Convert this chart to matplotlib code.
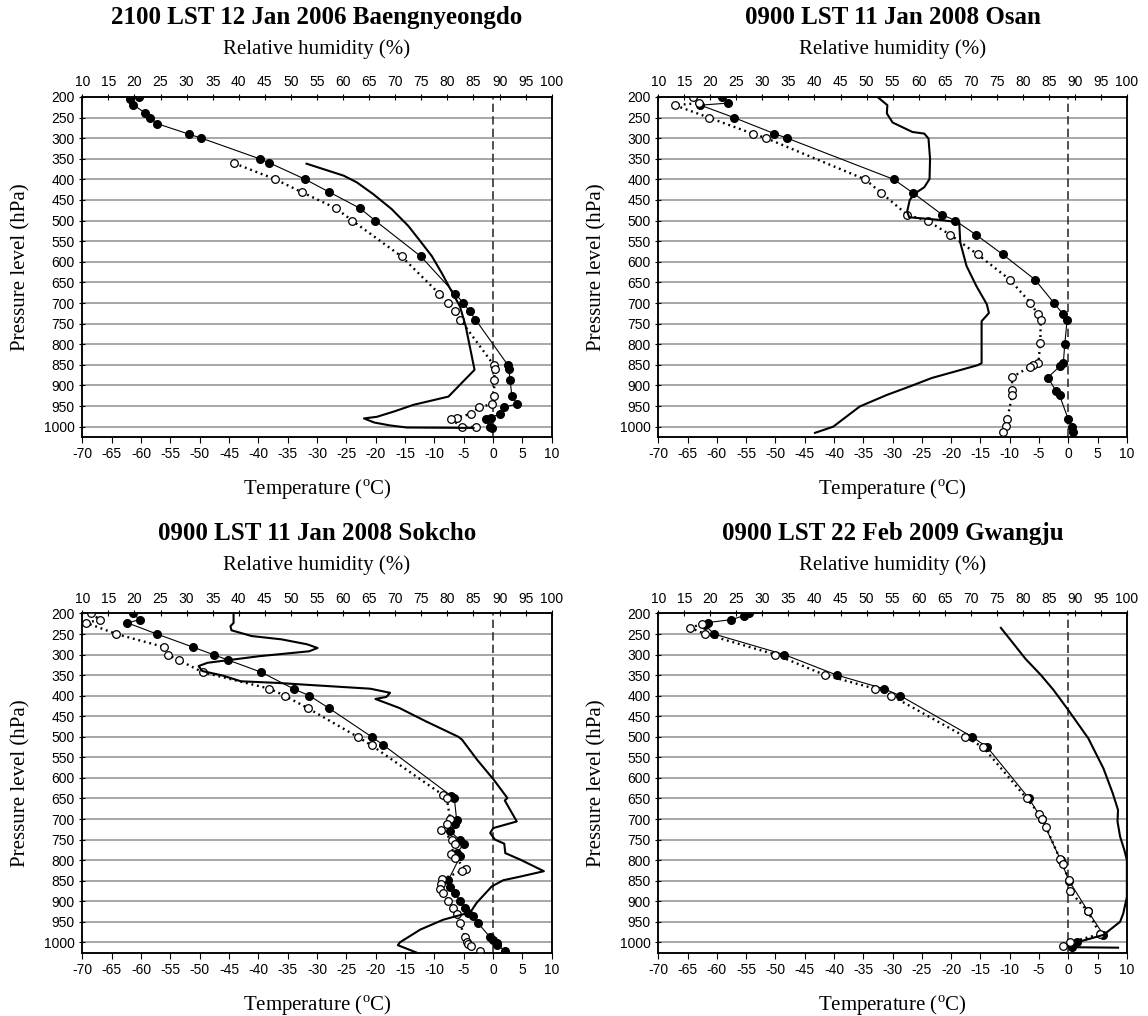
# Four sounding panels: temperature, dew point and relative humidity vs pressure
import matplotlib
matplotlib.use("Agg")
import matplotlib.pyplot as plt

plt.rcParams['font.family'] = ['Liberation Sans', 'DejaVu Sans']
plt.rcParams['mathtext.fontset'] = 'custom'
plt.rcParams['mathtext.rm'] = 'Liberation Serif'
plt.rcParams['axes.unicode_minus'] = False

SERIF = ['Liberation Serif', 'DejaVu Serif']

temp_ticks = list(range(-70, 15, 5))
rh_ticks = list(range(10, 105, 5))
p_ticks = list(range(200, 1050, 50))

# 2100 LST 12 Jan 2006 Baengnyeongdo
baeng_t_p = [200, 204, 219, 239, 250, 265, 290, 300, 350, 360, 400, 431, 470, 500,
             587, 677, 699, 720, 740, 850, 859, 886, 925, 945, 953, 969, 978, 982,
             1000, 1002]
baeng_t = [-60.4, -61.8, -61.3, -59.3, -58.5, -57.2, -51.9, -49.7, -39.8, -38.1,
           -32.0, -27.9, -22.7, -20.1, -12.3, -6.5, -5.1, -4.0, -3.0, 2.5, 2.7, 2.9,
           3.2, 4.1, 1.8, 1.1, -0.4, -1.2, -0.5, -0.2]
baeng_td_p = [361, 400, 431, 470, 500, 587, 677, 699, 720, 740, 850, 859, 886, 925,
              945, 953, 969, 978, 982, 1000, 1001]
baeng_td = [-44.1, -37.1, -32.6, -26.8, -24.0, -15.6, -9.2, -7.7, -6.5, -5.6, 0.1,
            0.3, 0.2, 0.2, -0.2, -2.4, -3.8, -6.2, -7.2, -5.3, -2.9]
baeng_rh_p = [362, 391, 407, 436, 472, 513, 550, 586, 627, 667, 708, 756, 862, 927,
              947, 963, 976, 980, 990, 997, 1002, 1003]
baeng_rh = [53.0, 60.1, 62.6, 65.8, 69.3, 72.5, 74.8, 77.0, 78.9, 80.6, 82.4, 83.5,
            85.2, 80.2, 73.5, 69.8, 66.5, 64.0, 66.0, 69.0, 72.2, 85.0]

# 0900 LST 11 Jan 2008 Osan
osan_t_p = [200, 215, 220, 250, 289, 300, 400, 433, 486, 500, 535, 582, 643, 699,
            727, 741, 799, 846, 854, 881, 913, 924, 982, 1000, 1014]
osan_t = [-59.1, -58.1, -62.8, -57.1, -50.2, -48.0, -29.8, -26.5, -21.5, -19.3,
          -15.7, -11.2, -5.7, -2.5, -0.9, -0.2, -0.6, -0.85, -1.5, -3.5, -2.1, -1.5,
          0.0, 0.6, 0.85]
osan_td_p = [200, 215, 220, 250, 289, 300, 400, 433, 486, 501, 534, 582, 643, 699,
             727, 742, 798, 846, 850, 855, 880, 912, 924, 981, 998, 1014]
osan_td = [-64.1, -63.0, -67.2, -61.4, -53.9, -51.6, -34.7, -31.9, -27.5, -24.0,
           -20.2, -15.5, -10.0, -6.5, -5.2, -4.7, -4.8, -5.1, -6.0, -6.6, -9.6, -9.6,
           -9.6, -10.4, -10.6, -11.1]
osan_rh_p = [200, 220, 240, 262, 285, 289, 301, 350, 399, 419, 435, 450, 478, 492,
             498, 504, 553, 610, 659, 703, 724, 730, 744, 846, 851, 863, 882, 902,
             923, 951, 1000, 1015]
osan_rh = [52.1, 54.0, 53.9, 55.0, 58.8, 61.1, 61.9, 62.2, 62.1, 61.1, 59.2, 58.3,
           57.8, 58.2, 63.7, 67.8, 68.0, 69.2, 71.1, 73.1, 73.5, 73.1, 72.1, 72.1,
           71.3, 67.9, 62.5, 58.4, 53.9, 48.7, 43.6, 40.1]

# 0900 LST 11 Jan 2008 Sokcho
sokcho_t_p = [200, 215, 223, 250, 282, 301, 313, 343, 384, 400, 431, 500, 520, 643,
              649, 703, 711, 730, 752, 760, 783, 791, 848, 865, 879, 900, 917, 928,
              937, 954, 986, 994, 1002, 1006, 1020]
sokcho_t = [-61.4, -60.2, -62.3, -57.3, -51.1, -47.5, -45.2, -39.5, -33.9, -31.3,
            -27.9, -20.7, -18.7, -7.2, -6.6, -6.2, -6.5, -7.3, -5.6, -4.9, -6.2, -5.6,
            -7.6, -7.3, -6.5, -5.6, -4.8, -4.2, -3.5, -2.5, -0.6, 0.05, 0.6, 0.7, 2.0]
sokcho_td_p = [200, 215, 223, 250, 282, 301, 313, 343, 383, 400, 431, 500, 521, 642,
               649, 701, 712, 727, 751, 761, 784, 794, 822, 826, 847, 859, 870, 879,
               900, 917, 930, 953, 986, 998, 1004, 1008, 1020]
sokcho_td = [-68.5, -67.0, -69.3, -64.2, -56.0, -55.4, -53.6, -49.5, -38.1, -35.5,
             -31.5, -23.1, -20.7, -8.5, -7.9, -7.3, -7.9, -8.9, -7.0, -6.4, -7.2, -6.5,
             -4.6, -5.3, -8.75, -8.9, -9.0, -8.5, -7.6, -6.8, -6.2, -5.7, -4.8, -4.4,
             -4.2, -3.75, -2.2]
sokcho_rh_p = [200, 223, 231, 241, 255, 263, 275, 284, 292, 304, 320, 328, 340, 351,
               365, 369, 373, 383, 393, 403, 408, 430, 462, 500, 507, 556, 604, 649,
               655, 706, 722, 734, 750, 760, 783, 799, 827, 840, 849, 864, 904, 927,
               945, 969, 1000, 1007, 1025]
sokcho_rh = [39.0, 39.0, 38.4, 38.6, 42.5, 48.2, 53.1, 55.1, 53.5, 43.9, 34.0, 32.3,
             33.0, 36.9, 40.4, 47.5, 52.4, 65.2, 69.0, 68.3, 66.2, 70.8, 75.8, 82.1,
             82.8, 85.7, 88.85, 91.5, 91.0, 93.3, 88.8, 88.2, 89.1, 90.9, 91.1, 94.0,
             98.5, 94.0, 90.7, 88.5, 85.6, 84.4, 79.2, 74.8, 70.9, 70.5, 74.1]

# 0900 LST 22 Feb 2009 Gwangju
gwangju_t_p = [200, 205, 215, 222, 228, 250, 300, 350, 383, 400, 500, 526, 650, 700,
               800, 850, 925, 982, 1000, 1012]
gwangju_t = [-54.5, -55.3, -57.5, -61.5, -62.0, -60.5, -48.5, -39.5, -31.5, -28.7,
             -16.4, -13.8, -6.7, -4.55, -1.3, 0.1, 3.4, 6.0, 1.5, 0.6]
gwangju_td_p = [225, 235, 250, 300, 350, 383, 400, 500, 526, 650, 687, 700, 720, 798,
                809, 849, 876, 925, 980, 1000, 1010]
gwangju_td = [-62.5, -64.5, -62.0, -50.0, -41.5, -33.0, -30.2, -17.6, -14.5, -7.1,
              -5.0, -4.55, -3.8, -1.4, -0.97, 0.1, 0.3, 3.35, 5.4, 0.3, -0.85]
gwangju_rh_p = [235, 270, 310, 350, 386, 435, 504, 577, 638, 678, 706, 743, 775, 800,
                890, 930, 950, 982, 1000, 1012, 1013]
gwangju_rh = [75.8, 78.0, 80.5, 83.5, 85.9, 88.75, 92.6, 95.5, 97.3, 98.3, 98.2, 98.7,
              99.5, 100, 100, 99.3, 98.7, 95.5, 90.4, 90.2, 98.3]


def draw_panel(ax, title, t_p, t, td_p, td, rh_p, rh):
    '''
    One sounding: temperature (filled), dew point (open, dotted)
    on the bottom axis and relative humidity on the top axis
    '''
    ax.set_xlim(-70, 10)
    ax.set_ylim(1025, 200)
    ax.set_xticks(temp_ticks)
    ax.set_yticks(p_ticks)
    ax.yaxis.grid(True, color='#a0a0a0', lw=1.3)
    ax.set_axisbelow(True)
    ax.axvline(0, color='#333333', lw=1.2, ls=(0, (5, 2.5)))

    ax.plot(t, t_p, color='black', lw=0.8, marker='o', ms=5.5,
            mfc='black', mec='black', zorder=3)
    ax.plot(td, td_p, color='black', lw=1.7, ls=(0, (0.8, 1.6)), marker='o',
            ms=5.5, mfc='white', mec='black', mew=0.9, zorder=4)

    ax2 = ax.twiny()
    ax2.set_xlim(10, 100)
    ax2.set_xticks(rh_ticks)
    ax2.plot(rh, rh_p, color='black', lw=1.5)

    ax.tick_params(axis='x', direction='out', length=4, width=0.8,
                   labelsize=10, pad=3.5)
    ax.tick_params(axis='y', direction='inout', length=5, width=0.8,
                   labelsize=10, pad=3)
    ax2.tick_params(axis='x', direction='inout', length=5, width=0.8,
                    labelsize=10, pad=3)
    for a in (ax, ax2):
        for s in a.spines.values():
            s.set_linewidth(1.1)

    ax.set_ylabel('Pressure level (hPa)', fontfamily=SERIF, fontsize=15)
    ax.yaxis.set_label_coords(-0.11, 0.5)
    ax.annotate(title, xy=(0.5, 1), xycoords='axes fraction', xytext=(0, 57.5),
                textcoords='offset points', ha='center', va='center',
                fontfamily=SERIF, fontsize=18, fontweight='bold')
    ax.annotate('Relative humidity (%)', xy=(0.5, 1), xycoords='axes fraction',
                xytext=(0, 34.5), textcoords='offset points', ha='center',
                va='center', fontfamily=SERIF, fontsize=15)
    ax.annotate('Temperature ($^{\\rm o}$C)', xy=(0.5, 0), xycoords='axes fraction',
                xytext=(0, -38), textcoords='offset points', ha='center',
                va='center', fontfamily=SERIF, fontsize=15)


fig = plt.figure(figsize=(11.48, 10.16), dpi=100)

panels = [
    ('2100 LST 12 Jan 2006 Baengnyeongdo', baeng_t_p, baeng_t, baeng_td_p, baeng_td,
     baeng_rh_p, baeng_rh, [0.0717, 0.5699, 0.4089, 0.3347]),
    ('0900 LST 11 Jan 2008 Osan', osan_t_p, osan_t, osan_td_p, osan_td,
     osan_rh_p, osan_rh, [0.5734, 0.5699, 0.4082, 0.3347]),
    ('0900 LST 11 Jan 2008 Sokcho', sokcho_t_p, sokcho_t, sokcho_td_p, sokcho_td,
     sokcho_rh_p, sokcho_rh, [0.0717, 0.0624, 0.4089, 0.3338]),
    ('0900 LST 22 Feb 2009 Gwangju', gwangju_t_p, gwangju_t, gwangju_td_p, gwangju_td,
     gwangju_rh_p, gwangju_rh, [0.5734, 0.0624, 0.4082, 0.3338]),
]

for title, t_p, t, td_p, td, rh_p, rh, box in panels:
    ax = fig.add_axes(box)
    draw_panel(ax, title, t_p, t, td_p, td, rh_p, rh)

fig.savefig('out.png', dpi=100)
